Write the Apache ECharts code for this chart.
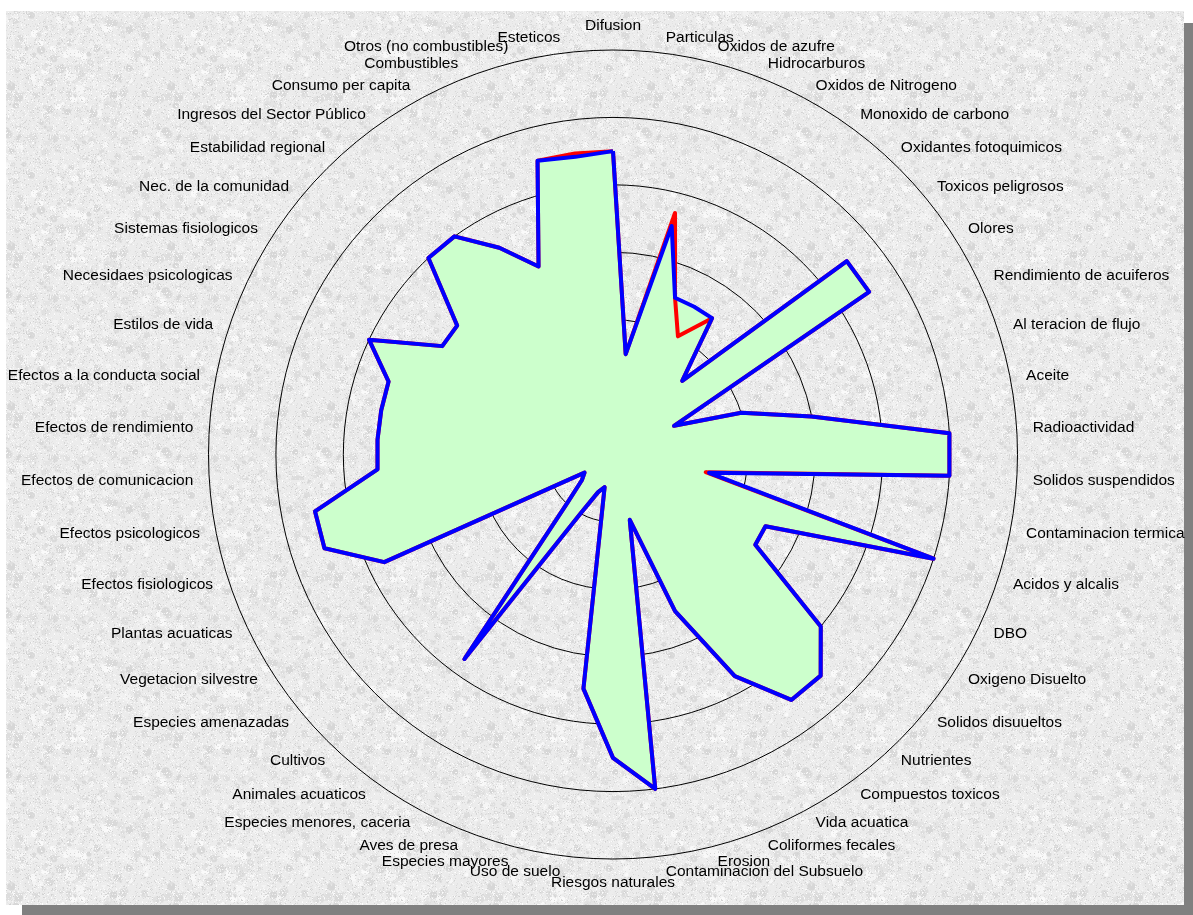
<!DOCTYPE html>
<html>
<head>
<meta charset="utf-8">
<script src="https://cdn.jsdelivr.net/npm/echarts@6/dist/echarts.min.js"></script>
<style>
  html, body { margin: 0; padding: 0; background: #ffffff; }
  #chart { width: 1193px; height: 915px; }
</style>
</head>
<body>
<div id="chart"></div>
<script>
// Impact factors, listed clockwise starting from the top of the radar
const categories = [
  'Difusion', 'Particulas', 'Oxidos de azufre', 'Hidrocarburos', 'Oxidos de Nitrogeno',
  'Monoxido de carbono', 'Oxidantes fotoquimicos', 'Toxicos peligrosos', 'Olores',
  'Rendimiento de acuiferos', 'Al teracion de flujo', 'Aceite', 'Radioactividad',
  'Solidos suspendidos', 'Contaminacion termica', 'Acidos y alcalis', 'DBO',
  'Oxigeno Disuelto', 'Solidos disuueltos', 'Nutrientes', 'Compuestos toxicos',
  'Vida acuatica', 'Coliformes fecales', 'Erosion', 'Contaminacion del Subsuelo',
  'Riesgos naturales', 'Uso de suelo', 'Especies mayores', 'Aves de presa',
  'Especies menores, caceria', 'Animales acuaticos', 'Cultivos', 'Especies amenazadas',
  'Vegetacion silvestre', 'Plantas acuaticas', 'Efectos fisiologicos',
  'Efectos psicologicos', 'Efectos de comunicacion', 'Efectos de rendimiento',
  'Efectos a la conducta social', 'Estilos de vida', 'Necesidaes psicologicas',
  'Sistemas fisiologicos', 'Nec. de la comunidad', 'Estabilidad regional',
  'Ingresos del Sector Público', 'Consumo per capita', 'Combustibles',
  'Otros (no combustibles)', 'Esteticos'
];

// Series drawn in blue (filled) and red (outline)
const blueValues = [
  4.5, 1.5, 3.5, 2.5, 2.5, 2.5, 1.5, 4.5, 4.5, 1.0,
  2.0, 3.0, 5.0, 5.0, 1.45, 5.0, 2.5, 2.5, 4.0, 4.5,
  4.5, 3.75, 2.5, 1.0, 5.0, 4.5, 3.5, 0.5, 0.6, 1.0,
  3.75, 1.0, 0.6, 0.5, 3.75, 4.5, 4.5, 3.5, 3.5, 3.5,
  3.5, 4.0, 3.0, 3.0, 4.0, 4.0, 3.5, 3.0, 4.5, 4.45
];
const redValues = [
  4.5, 1.5, 3.7, 2.5, 2.0, 2.5, 1.5, 4.5, 4.5, 1.0,
  2.0, 3.0, 5.0, 5.0, 1.4, 5.0, 2.5, 2.5, 4.0, 4.5,
  4.5, 3.75, 2.5, 1.0, 5.0, 4.5, 3.5, 0.5, 0.6, 1.0,
  3.75, 1.0, 0.6, 0.5, 3.75, 4.5, 4.5, 3.5, 3.5, 3.5,
  3.5, 4.0, 3.0, 3.0, 4.0, 4.0, 3.5, 3.0, 4.5, 4.5
];

const scaleMax = 6;      // outer ring
const ringCount = 6;     // concentric circles

// ECharts lays indicators out counter-clockwise, so walk the list backwards
// from the first item to keep the clockwise reading order.
const order = [0].concat(categories.map((_, i) => categories.length - 1 - i).slice(0, categories.length - 1));
const indicators = order.map(i => ({ name: categories[i], min: 0, max: scaleMax }));
const pick = arr => order.map(i => arr[i]);

// Light granite texture for the plot panel (deterministic speckle pattern)
function makeGranite(size) {
  const c = document.createElement('canvas');
  c.width = c.height = size;
  const g = c.getContext('2d');
  g.fillStyle = '#ececec';
  g.fillRect(0, 0, size, size);
  let s = 20240601 >>> 0;
  const rnd = () => { s = (Math.imul(s, 1664525) + 1013904223) >>> 0; return s / 4294967296; };
  // soft mottled blotches
  for (let i = 0; i < size * size * 0.02; i++) {
    const x = rnd() * size, y = rnd() * size, r = 1.5 + rnd() * 3;
    const v = Math.round(214 + rnd() * 36);
    g.fillStyle = 'rgb(' + v + ',' + v + ',' + v + ')';
    g.beginPath(); g.arc(x, y, r, 0, Math.PI * 2); g.fill();
  }
  // fine grain
  const n = Math.floor(size * size * 0.3);
  for (let i = 0; i < n; i++) {
    const x = Math.floor(rnd() * size);
    const y = Math.floor(rnd() * size);
    const v = Math.round(208 + rnd() * 47);
    g.fillStyle = 'rgb(' + v + ',' + v + ',' + v + ')';
    g.fillRect(x, y, 1, 1);
  }
  const out = document.createElement('canvas');
  out.width = out.height = size;
  const o = out.getContext('2d');
  o.filter = 'blur(0.6px)';
  o.drawImage(c, 0, 0);
  return out;
}

const chart = echarts.init(document.getElementById('chart'), null, { renderer: 'canvas' });

chart.setOption({
  backgroundColor: '#ffffff',
  animation: false,
  graphic: [
    { type: 'rect', z: -20, silent: true,
      shape: { x: 22, y: 23, width: 1171, height: 892 },
      style: { fill: '#808080' } },
    { type: 'rect', z: -10, silent: true,
      shape: { x: 6, y: 11, width: 1178, height: 894 },
      style: { fill: { image: makeGranite(160), repeat: 'repeat' } } }
  ],
  radar: {
    center: [613, 454.5],
    radius: 404.5,
    shape: 'circle',
    startAngle: 90,
    splitNumber: ringCount,
    indicator: indicators,
    axisNameGap: 16,
    axisName: {
      color: '#000000',
      fontFamily: '"Liberation Sans", Arial, sans-serif',
      fontSize: 15.5
    },
    axisLine: { show: false },
    axisTick: { show: false },
    axisLabel: { show: false },
    splitArea: { show: false },
    splitLine: { lineStyle: { color: '#000000', width: 1 } }
  },
  series: [{
    type: 'radar',
    symbol: 'none',
    silent: true,
    data: [
      { name: 'fill', value: pick(blueValues),
        lineStyle: { width: 0, opacity: 0 },
        areaStyle: { color: '#ccffcc', opacity: 1 } },
      { name: 'red', value: pick(redValues),
        lineStyle: { color: '#ff0000', width: 4, join: 'round' } },
      { name: 'blue', value: pick(blueValues),
        lineStyle: { color: '#0000ff', width: 4, join: 'round' } }
    ]
  }]
});
</script>
</body>
</html>
